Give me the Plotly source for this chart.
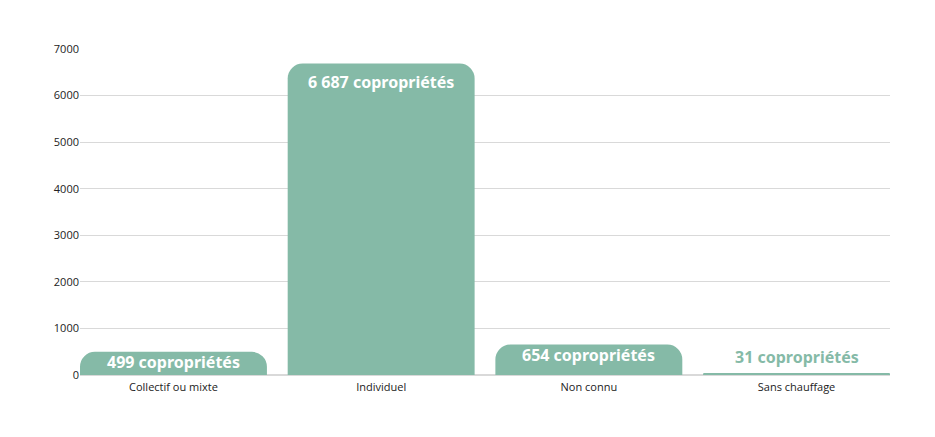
import plotly.graph_objects as go

categories = ["Collectif ou mixte", "Individuel", "Non connu", "Sans chauffage"]
values = [499, 6687, 654, 31]

GREEN = "#85BAA7"

labels = [f"{v:,}".replace(",", " ") + " copropriétés" for v in values]

fig = go.Figure(go.Bar(
    x=categories,
    y=values,
    marker=dict(color=GREEN, line=dict(width=0)),
    hoverinfo="x+y",
))

# value labels: inside the top of the bar, or above it when the bar is too thin
for cat, val, lab in zip(categories, values, labels):
    inside = val > 300
    fig.add_annotation(
        x=cat, y=val, text=lab, showarrow=False,
        yanchor="top" if inside else "bottom",
        yshift=(-5 if val > 3000 else 3) if inside else 4,
        font=dict(family="Noto Sans", size=16, weight="bold",
                  color="white" if inside else GREEN),
    )

fig.update_layout(
    width=919, height=421,
    margin=dict(l=72, r=37, t=41, b=54),
    paper_bgcolor="white",
    plot_bgcolor="white",
    bargap=0.1,
    barcornerradius=15,
    showlegend=False,
    font=dict(family="Open Sans", size=11, color="#222222"),
)
fig.update_yaxes(range=[0, 7000], dtick=1000, showgrid=True, gridcolor="#d9d9d9",
                 gridwidth=1, zeroline=True, zerolinecolor="#d9d9d9",
                 tickfont=dict(size=11, color="#222222"), ticks="", ticklen=0)
# bars run edge to edge of the plot area
fig.update_xaxes(range=[-0.45, 3.45], showgrid=False, showline=False,
                 ticklabelstandoff=4, tickfont=dict(size=11, color="#222222"))

fig.write_html("out.html")
